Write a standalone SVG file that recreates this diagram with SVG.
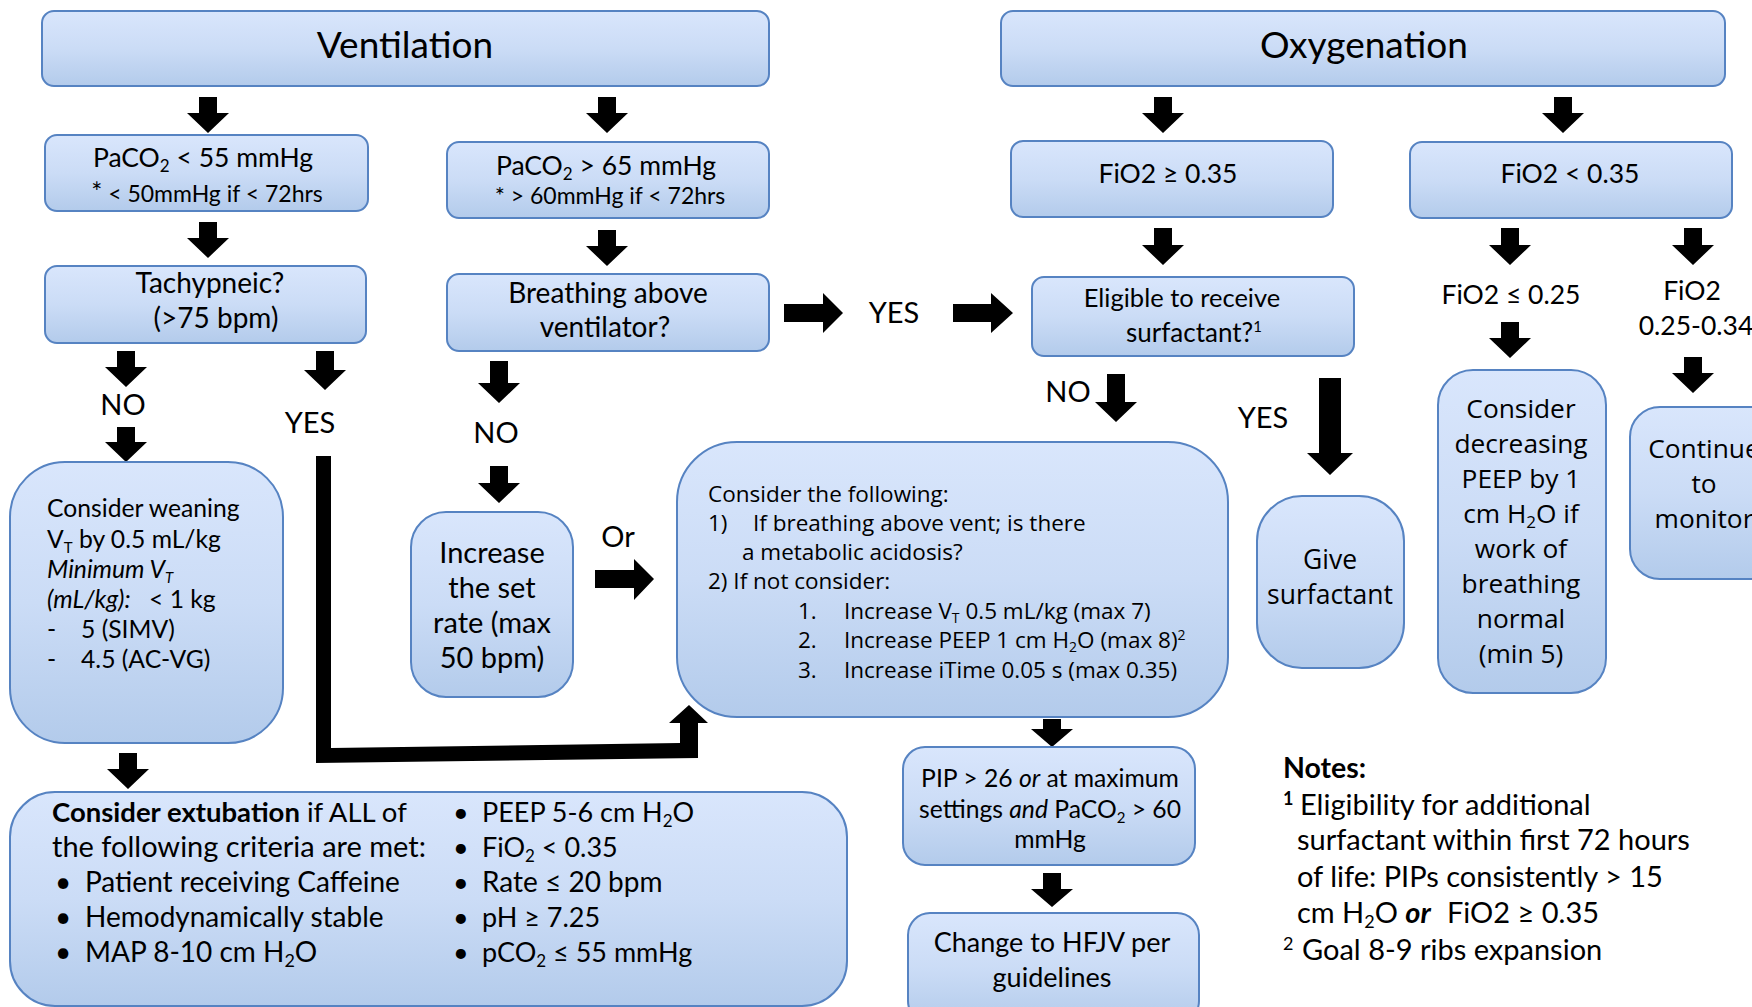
<svg xmlns="http://www.w3.org/2000/svg" width="1752" height="1007" viewBox="0 0 1752 1007">
<defs>
<linearGradient id="g" x1="0" y1="0" x2="0" y2="1">
<stop offset="0" stop-color="#d9e6fc"/>
<stop offset="0.5" stop-color="#cbdcf6"/>
<stop offset="1" stop-color="#b3cbeb"/>
</linearGradient>
<style>
.box{fill:url(#g);stroke:#5683c2;stroke-width:2}
.t{font-family:Lato,"Liberation Sans",sans-serif;fill:#000}
.o{font-family:"Open Sans","Liberation Sans",sans-serif;fill:#000}
.c{text-anchor:middle}
.ar{fill:#000}
</style>
</defs>
<rect width="1752" height="1007" fill="#fff"/>

<g id="connectors">
<path class="ar" d="M199,97H217V113H229L208,133L187,113H199Z"/>
<path class="ar" d="M598,97H616V113H628L607,133L586,113H598Z"/>
<path class="ar" d="M1154,97H1172V113H1184L1163,133L1142,113H1154Z"/>
<path class="ar" d="M1554,97H1572V113H1584L1563,133L1542,113H1554Z"/>
<path class="ar" d="M199,222H217V238H229L208,258L187,238H199Z"/>
<path class="ar" d="M598,230H616V246H628L607,266L586,246H598Z"/>
<path class="ar" d="M1154,228H1172V245H1184L1163,265L1142,245H1154Z"/>
<path class="ar" d="M1501,228H1519V245H1531L1510,265L1489,245H1501Z"/>
<path class="ar" d="M1684,228H1702V245H1714L1693,265L1672,245H1684Z"/>
<path class="ar" d="M117,351H135V367H147L126,387L105,367H117Z"/>
<path class="ar" d="M316,351H334V370H346L325,390L304,370H316Z"/>
<path class="ar" d="M117,427H135V442H147L126,462L105,442H117Z"/>
<path class="ar" d="M490,361H508V383H520L499,403L478,383H490Z"/>
<path class="ar" d="M490,466H508V483H520L499,503L478,483H490Z"/>
<path class="ar" d="M1107,374H1125V402H1137L1116,422L1095,402H1107Z"/>
<path class="ar" d="M1319,378H1341V453H1353L1330,475L1307,453H1319Z"/>
<path class="ar" d="M1501,322H1519V338H1531L1510,358L1489,338H1501Z"/>
<path class="ar" d="M1684,357H1702V373H1714L1693,393L1672,373H1684Z"/>
<path class="ar" d="M1043,719H1061V729H1073L1052,747L1031,729H1043Z"/>
<path class="ar" d="M1043,873H1061V889H1073L1052,907L1031,889H1043Z"/>
<path class="ar" d="M119,753H137V769H149L128,789L107,769H119Z"/>
<path class="ar" d="M784,304V322H823V333L843,313L823,293V304Z"/>
<path class="ar" d="M953,304V322H991V333L1013,313L991,293V304Z"/>
<path class="ar" d="M595,570V588H634V600L654,579L634,559V570Z"/>
<path class="ar" d="M316,456H331V748L680,743V723H669L689,705L708,723H698V758L316,763Z"/>
</g>

<g id="ventilation"><rect class="box" x="42" y="11" width="727" height="75" rx="12"/>
<text class="t c" x="405" y="58" font-size="37">Ventilation</text></g>

<g id="oxygenation"><rect class="box" x="1001" y="11" width="724" height="75" rx="12"/>
<text class="t c" x="1364" y="58" font-size="37">Oxygenation</text></g>

<g id="paco2-low"><rect class="box" x="45" y="135" width="323" height="76" rx="12"/>
<text class="t c" x="203" y="167" font-size="26.5">PaCO<tspan font-size="17" dy="5">2</tspan><tspan dy="-5"> &lt; 55 mmHg</tspan></text>
<text class="t c" x="207" y="202" font-size="23"><tspan font-size="26">*</tspan> &lt; 50mmHg if &lt; 72hrs</text></g>

<g id="paco2-high"><rect class="box" x="447" y="142" width="322" height="76" rx="12"/>
<text class="t c" x="606" y="175" font-size="26.5">PaCO<tspan font-size="17" dy="5">2</tspan><tspan dy="-5"> &gt; 65 mmHg</tspan></text>
<text class="t c" x="610" y="204" font-size="23"><tspan font-size="24">*</tspan> &gt; 60mmHg if &lt; 72hrs</text></g>

<g id="fio2-high"><rect class="box" x="1011" y="141" width="322" height="76" rx="12"/>
<text class="t c" x="1168" y="183" font-size="26.5">FiO2 ≥ 0.35</text></g>

<g id="fio2-low"><rect class="box" x="1410" y="142" width="322" height="76" rx="12"/>
<text class="t c" x="1570" y="183" font-size="26.5">FiO2 &lt; 0.35</text></g>

<g id="tachypneic"><rect class="box" x="45" y="266" width="321" height="77" rx="12"/>
<text class="t c" x="210" y="293" font-size="28">Tachypneic?</text>
<text class="t c" x="216" y="328" font-size="28">(&gt;75 bpm)</text></g>

<g id="breathing"><rect class="box" x="447" y="274" width="322" height="77" rx="12"/>
<text class="t c" x="608" y="303" font-size="28">Breathing above</text>
<text class="t c" x="605" y="337" font-size="28">ventilator?</text></g>

<g id="eligible"><rect class="box" x="1032" y="277" width="322" height="79" rx="12"/>
<text class="t c" x="1182" y="307" font-size="25.5">Eligible to receive</text>
<text class="t c" x="1194" y="342" font-size="26">surfactant?<tspan font-size="15" dy="-10">1</tspan></text></g>

<g id="labels">
<text class="t c" x="894" y="323" font-size="29">YES</text>
<text class="t c" x="1511" y="304" font-size="26.5">FiO2 ≤ 0.25</text>
<text class="t c" x="1692" y="300" font-size="26.5">FiO2</text>
<text class="t c" x="1696" y="335" font-size="26.5">0.25-0.34</text>
<text class="t c" x="123" y="415" font-size="29">NO</text>
<text class="t c" x="310" y="433" font-size="29">YES</text>
<text class="t c" x="496" y="443" font-size="29">NO</text>
<text class="t c" x="1068" y="402" font-size="29">NO</text>
<text class="t c" x="1263" y="428" font-size="29">YES</text>
<text class="t c" x="618" y="547" font-size="29">Or</text>
</g>

<g id="weaning"><rect class="box" x="10" y="462" width="273" height="281" rx="55"/>
<text class="t" x="47" y="517" font-size="24.7">Consider weaning</text>
<text class="t" x="47" y="548" font-size="24.7">V<tspan font-size="15" dy="5">T</tspan><tspan dy="-5"> by 0.5 mL/kg</tspan></text>
<text class="t" x="47" y="578" font-size="24.7" font-style="italic">Minimum V<tspan font-size="15" dy="5">T</tspan></text>
<text class="t" x="47" y="608" font-size="24.7" font-style="italic">(mL/kg):</text><text class="t" x="149" y="608" font-size="24.7">&lt; 1 kg</text>
<text class="t" x="47" y="638" font-size="24.7">-</text><text class="t" x="81" y="638" font-size="24.7">5 (SIMV)</text>
<text class="t" x="47" y="668" font-size="24.7">-</text><text class="t" x="81" y="668" font-size="24.7">4.5 (AC-VG)</text></g>

<g id="increase-rate"><rect class="box" x="411" y="512" width="162" height="185" rx="35"/>
<text class="t c" x="492" y="563" font-size="29">Increase</text>
<text class="t c" x="492" y="598" font-size="29">the set</text>
<text class="t c" x="492" y="633" font-size="29">rate (max</text>
<text class="t c" x="492" y="668" font-size="29">50 bpm)</text></g>

<g id="consider-following"><rect class="box" x="677" y="442" width="551" height="275" rx="60"/>
<text class="o" x="708" y="502" font-size="22.5">Consider the following:</text>
<text class="o" x="708" y="531" font-size="22.5">1)</text><text class="o" x="753" y="531" font-size="22.5">If breathing above vent; is there</text>
<text class="o" x="742" y="560" font-size="22.5">a metabolic acidosis?</text>
<text class="o" x="708" y="589" font-size="22.5">2) If not consider:</text>
<text class="o" x="798" y="619" font-size="22.5">1.</text><text class="o" x="844" y="619" font-size="22.5">Increase V<tspan font-size="14" dy="4">T</tspan><tspan dy="-4"> 0.5 mL/kg (max 7)</tspan></text>
<text class="o" x="798" y="648" font-size="22.5">2.</text><text class="o" x="844" y="648" font-size="22.5">Increase PEEP 1 cm H<tspan font-size="14" dy="4">2</tspan><tspan dy="-4">O (max 8)</tspan><tspan font-size="14" dy="-8">2</tspan></text>
<text class="o" x="798" y="678" font-size="22.5">3.</text><text class="o" x="844" y="678" font-size="22.5">Increase iTime 0.05 s (max 0.35)</text></g>

<g id="give-surfactant"><rect class="box" x="1257" y="496" width="147" height="172" rx="45"/>
<text class="o c" x="1330" y="569" font-size="26.5">Give</text>
<text class="o c" x="1330" y="604" font-size="26.5">surfactant</text></g>

<g id="decrease-peep"><rect class="box" x="1438" y="370" width="168" height="323" rx="35"/>
<text class="o c" x="1521" y="418" font-size="26.3">Consider</text>
<text class="o c" x="1521" y="453" font-size="26.3">decreasing</text>
<text class="o c" x="1521" y="488" font-size="26.3">PEEP by 1</text>
<text class="o c" x="1521" y="523" font-size="26.3">cm H<tspan font-size="17" dy="5">2</tspan><tspan dy="-5">O if</tspan></text>
<text class="o c" x="1521" y="558" font-size="26.3">work of</text>
<text class="o c" x="1521" y="593" font-size="26.3">breathing</text>
<text class="o c" x="1521" y="628" font-size="26.3">normal</text>
<text class="o c" x="1521" y="663" font-size="26.3">(min 5)</text></g>

<g id="continue-monitor"><rect class="box" x="1630" y="407" width="150" height="172" rx="30"/>
<text class="o c" x="1704" y="458" font-size="26.3">Continue</text>
<text class="o c" x="1704" y="493" font-size="26.3">to</text>
<text class="o c" x="1704" y="528" font-size="26.3">monitor</text></g>

<g id="pip"><rect class="box" x="903" y="747" width="292" height="118" rx="22"/>
<text class="t c" x="1050" y="787" font-size="24.7">PIP &gt; 26 <tspan font-style="italic">or</tspan> at maximum</text>
<text class="t c" x="1050" y="818" font-size="24.7">settings <tspan font-style="italic">and</tspan> PaCO<tspan font-size="15" dy="5">2</tspan><tspan dy="-5">  &gt; 60</tspan></text>
<text class="t c" x="1050" y="848" font-size="24.7">mmHg</text></g>

<g id="hfjv"><rect class="box" x="908" y="913" width="291" height="110" rx="22"/>
<text class="t c" x="1052" y="952" font-size="27">Change to HFJV per</text>
<text class="t c" x="1052" y="987" font-size="27">guidelines</text></g>

<g id="extubation"><rect class="box" x="10" y="792" width="837" height="214" rx="45"/>
<text class="t" x="52" y="822" font-size="27.5"><tspan font-weight="bold">Consider extubation</tspan> if ALL of</text>
<text class="t" x="52" y="857" font-size="29">the following criteria are met:</text>
<text class="t" x="55" y="892" font-size="28">•</text><text class="t" x="85" y="892" font-size="28">Patient receiving Caffeine</text>
<text class="t" x="55" y="927" font-size="28">•</text><text class="t" x="85" y="927" font-size="28">Hemodynamically stable</text>
<text class="t" x="55" y="962" font-size="28">•</text><text class="t" x="85" y="962" font-size="28">MAP 8-10 cm H<tspan font-size="18" dy="5">2</tspan><tspan dy="-5">O</tspan></text>
<text class="t" x="453" y="822" font-size="27">•</text><text class="t" x="482" y="822" font-size="27">PEEP 5-6 cm H<tspan font-size="17" dy="5">2</tspan><tspan dy="-5">O</tspan></text>
<text class="t" x="453" y="857" font-size="27">•</text><text class="t" x="482" y="857" font-size="27">FiO<tspan font-size="17" dy="5">2</tspan><tspan dy="-5"> &lt; 0.35</tspan></text>
<text class="t" x="453" y="892" font-size="27">•</text><text class="t" x="482" y="892" font-size="28">Rate ≤ 20 bpm</text>
<text class="t" x="453" y="927" font-size="27">•</text><text class="t" x="482" y="927" font-size="27">pH ≥ 7.25</text>
<text class="t" x="453" y="962" font-size="27">•</text><text class="t" x="482" y="962" font-size="27">pCO<tspan font-size="17" dy="5">2</tspan><tspan dy="-5"> ≤ 55 mmHg</tspan></text></g>

<g id="notes">
<text class="t" x="1283" y="778" font-size="28.5" font-weight="bold">Notes:</text>
<text class="t" x="1283" y="815" font-size="29"><tspan font-size="18" font-weight="bold" dy="-10">1</tspan><tspan dy="10" x="1300">Eligibility for additional</tspan></text>
<text class="t" x="1297" y="850" font-size="29">surfactant within first 72 hours</text>
<text class="t" x="1297" y="887" font-size="29">of life: PIPs consistently &gt; 15</text>
<text class="t" x="1297" y="923" font-size="29">cm H<tspan font-size="18" dy="5">2</tspan><tspan dy="-5">O </tspan><tspan font-weight="bold" font-style="italic">or</tspan><tspan x="1447">FiO2 ≥ 0.35</tspan></text>
<text class="t" x="1283" y="960" font-size="29"><tspan font-size="18" dy="-10">2</tspan><tspan dy="10" x="1302">Goal 8-9 ribs expansion</tspan></text>
</g>
</svg>
